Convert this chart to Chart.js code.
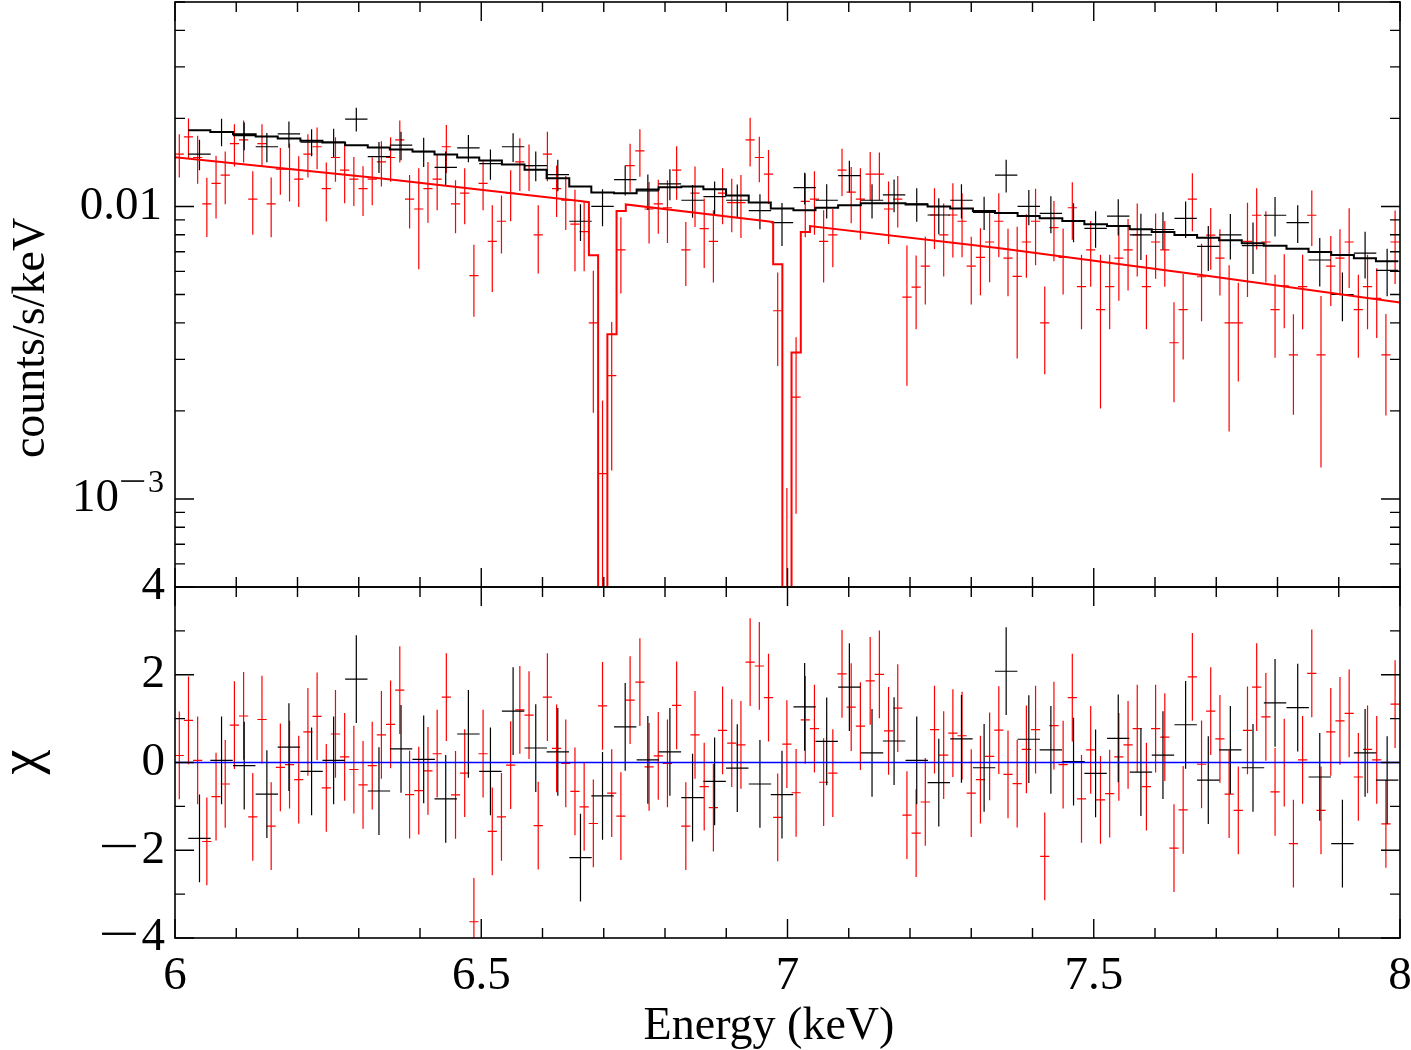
<!DOCTYPE html>
<html>
<head>
<meta charset="utf-8">
<script src="https://cdn.jsdelivr.net/npm/chart.js@4/dist/chart.umd.min.js"></script>
<style>
  html, body { margin: 0; padding: 0; background: #fff; }
  #wrap { position: relative; width: 1411px; height: 1050px; }
  #wrap canvas { position: absolute; left: 0; top: 0; }
</style>
</head>
<body>
<div id="wrap">
  <canvas id="resid" width="1411" height="1050"></canvas>
  <canvas id="spec" width="1411" height="1050"></canvas>
</div>
<script>
// black spectrum (wide bins)
const blackEnergy = [6.040, 6.076, 6.113, 6.150, 6.186, 6.223, 6.259, 6.296, 6.333, 6.369,
    6.406, 6.442, 6.479, 6.515, 6.552, 6.589, 6.625, 6.662, 6.698, 6.735,
    6.772, 6.808, 6.845, 6.881, 6.918, 6.955, 6.991, 7.028, 7.064, 7.101,
    7.138, 7.174, 7.211, 7.247, 7.284, 7.321, 7.357, 7.394, 7.430, 7.467,
    7.503, 7.540, 7.577, 7.613, 7.650, 7.687, 7.723, 7.760, 7.796, 7.833,
    7.869, 7.906, 7.943, 7.979];
const blackHalfWidth = 0.0183;
const blackRate = [0.0151, 0.0180, 0.01745, 0.0160, 0.0177, 0.0166, 0.0166, 0.0199, 0.0148, 0.0162,
    0.0154, 0.0136, 0.01585, 0.0140, 0.0160, 0.0138, 0.01285, 0.0089, 0.0100, 0.01235,
    0.0113, 0.01195, 0.0105, 0.0108, 0.0105, 0.00968, 0.0088, 0.0116, 0.0105, 0.01275,
    0.0105, 0.01096, 0.0102, 0.00935, 0.0105, 0.00955, 0.0128, 0.0100, 0.00947, 0.0089,
    0.00842, 0.00927, 0.0080, 0.00834, 0.0091, 0.0073, 0.0080, 0.00735, 0.00933, 0.0088,
    0.00656, 0.0050, 0.00693, 0.00605];
const blackErr = [0.0018, 0.00195, 0.0019, 0.00183, 0.00183, 0.00176, 0.00185, 0.00185, 0.0018, 0.0018,
    0.00177, 0.0018, 0.0017, 0.00165, 0.0018, 0.0016, 0.00158, 0.00128, 0.00144, 0.00145,
    0.00157, 0.00146, 0.00135, 0.00137, 0.00138, 0.00133, 0.00147, 0.00145, 0.0014, 0.00158,
    0.0014, 0.0014, 0.00133, 0.00132, 0.0014, 0.00125, 0.00163, 0.00138, 0.00137, 0.00135,
    0.0012, 0.00132, 0.00144, 0.00122, 0.0013, 0.00128, 0.00142, 0.00147, 0.00144, 0.0013,
    0.00124, 0.00095, 0.00126, 0.00112];
const blackModel = [0.01822, 0.01798, 0.01765, 0.01734, 0.01707, 0.01676, 0.01654, 0.01619, 0.01590, 0.01565,
    0.01541, 0.01504, 0.01470, 0.01436, 0.01391, 0.01335, 0.01249, 0.01170, 0.01116, 0.01110,
    0.01143, 0.01164, 0.01170, 0.01146, 0.01090, 0.01032, 0.00984, 0.00971, 0.00990, 0.01010,
    0.01026, 0.01026, 0.01016, 0.01000, 0.00984, 0.00964, 0.00949, 0.00927, 0.00912, 0.00891,
    0.00870, 0.00857, 0.00835, 0.00817, 0.00798, 0.00782, 0.00766, 0.00749, 0.00734, 0.00717,
    0.00698, 0.00682, 0.00665, 0.00649];
const blackChi = [-1.73, 0.05, -0.07, -0.72, 0.35, -0.20, 0.05, 1.90, -0.65, 0.31,
    0.07, -0.83, 0.65, -0.20, 1.17, 0.33, 0.24, -2.17, -0.76, 0.81,
    0.06, 0.24, -0.80, -0.43, -0.13, -0.49, -0.73, 1.27, 0.48, 1.72,
    0.22, 0.49, 0.05, -0.46, 0.54, -0.12, 2.08, 0.53, 0.29, 0.02,
    -0.25, 0.55, -0.22, 0.17, 0.86, -0.40, 0.29, -0.12, 1.36, 1.25,
    -0.33, -1.85, 0.22, -0.40];

// red spectrum (narrow bins)
const redEnergy = [6.007, 6.022, 6.037, 6.052, 6.067, 6.082, 6.097, 6.112, 6.127, 6.142,
    6.157, 6.172, 6.187, 6.202, 6.217, 6.232, 6.247, 6.262, 6.277, 6.292,
    6.307, 6.322, 6.337, 6.352, 6.367, 6.383, 6.398, 6.413, 6.428, 6.443,
    6.458, 6.473, 6.488, 6.503, 6.518, 6.533, 6.548, 6.563, 6.578, 6.593,
    6.608, 6.623, 6.638, 6.653, 6.668, 6.683, 6.698, 6.713, 6.728, 6.743,
    6.759, 6.774, 6.789, 6.804, 6.819, 6.834, 6.849, 6.864, 6.879, 6.894,
    6.909, 6.924, 6.939, 6.954, 6.969, 6.984, 6.999, 7.014, 7.029, 7.044,
    7.059, 7.074, 7.089, 7.104, 7.119, 7.135, 7.150, 7.165, 7.180, 7.195,
    7.210, 7.225, 7.240, 7.255, 7.270, 7.285, 7.300, 7.315, 7.330, 7.345,
    7.360, 7.375, 7.390, 7.405, 7.420, 7.435, 7.450, 7.465, 7.480, 7.495,
    7.511, 7.526, 7.541, 7.556, 7.571, 7.586, 7.601, 7.616, 7.631, 7.646,
    7.661, 7.676, 7.691, 7.706, 7.721, 7.736, 7.751, 7.766, 7.781, 7.796,
    7.811, 7.826, 7.841, 7.856, 7.871, 7.887, 7.902, 7.917, 7.932, 7.947,
    7.962, 7.977, 7.992];
const redHalfWidth = 0.0075;
const redRate = [0.0151, 0.0173, 0.0147, 0.0102, 0.0120, 0.0128, 0.0164, 0.0169, 0.0106, 0.0164,
    0.0102, 0.0134, 0.0134, 0.0124, 0.0151, 0.0160, 0.0115, 0.0147, 0.0133, 0.0124,
    0.0115, 0.0124, 0.0142, 0.0147, 0.0169, 0.0106, 0.0098, 0.0115, 0.0124, 0.0160,
    0.0102, 0.0111, 0.0058, 0.0120, 0.0076, 0.0089, 0.0111, 0.0142, 0.0138, 0.0080,
    0.0151, 0.0115, 0.0105, 0.0087, 0.0082, 0.0040, 0.00122, 0.00264, 0.00711, 0.0138,
    0.0155, 0.0098, 0.0102, 0.0099, 0.0133, 0.0071, 0.0111, 0.0084, 0.0076, 0.0111,
    0.0103, 0.0103, 0.0169, 0.0147, 0.0129, 0.0044, 0.00032, 0.00223, 0.0104, 0.0106,
    0.0076, 0.0080, 0.0133, 0.0112, 0.0106, 0.0129, 0.0129, 0.0098, 0.0106, 0.0049,
    0.0053, 0.00625, 0.00935, 0.0080, 0.00935, 0.0089, 0.00625, 0.0067, 0.00756, 0.0089,
    0.00666, 0.00577, 0.00756, 0.0089, 0.0040, 0.00846, 0.0067, 0.0099, 0.00532, 0.00711,
    0.00444, 0.00532, 0.00666, 0.00711, 0.0080, 0.00532, 0.00756, 0.00711, 0.00342, 0.00444,
    0.0106, 0.00575, 0.00798, 0.00666, 0.0040, 0.0040, 0.0076, 0.00933, 0.00756, 0.00444,
    0.00535, 0.00311, 0.00532, 0.00933, 0.00311, 0.00625, 0.00666, 0.00756, 0.00444, 0.00532,
    0.00485, 0.00311, 0.00756];
const redErr = [0.00255, 0.0027, 0.00275, 0.00233, 0.0029, 0.00262, 0.00271, 0.00278, 0.00259, 0.00271,
    0.00235, 0.00244, 0.0030, 0.00245, 0.00254, 0.0026, 0.00262, 0.00255, 0.00305, 0.00236,
    0.00223, 0.0023, 0.0025, 0.00255, 0.00278, 0.0022, 0.0037, 0.0027, 0.0027, 0.0030,
    0.0021, 0.0024, 0.0016, 0.0023, 0.0025, 0.0020, 0.0022, 0.0029, 0.0025, 0.0021,
    0.0029, 0.0023, 0.0022, 0.0027, 0.0022, 0.00203, 0.00095, 0.00139, 0.00207, 0.00257,
    0.00287, 0.00233, 0.00214, 0.0024, 0.00275, 0.00175, 0.0026, 0.00224, 0.0021, 0.0024,
    0.00214, 0.0025, 0.0032, 0.0026, 0.0027, 0.00155, 0.00077, 0.00134, 0.00255, 0.0026,
    0.0021, 0.0018, 0.00244, 0.00244, 0.0029, 0.00245, 0.0024, 0.00236, 0.00212, 0.00246,
    0.0015, 0.00163, 0.0022, 0.00224, 0.00266, 0.0022, 0.00163, 0.00173, 0.00205, 0.0022,
    0.00173, 0.00275, 0.00185, 0.0026, 0.00133, 0.00197, 0.0017, 0.0022, 0.00152, 0.0018,
    0.0024, 0.00152, 0.0019, 0.00195, 0.00224, 0.00152, 0.0019, 0.0018, 0.00128, 0.00144,
    0.00238, 0.0017, 0.0019, 0.0017, 0.0023, 0.00148, 0.0027, 0.0022, 0.00207, 0.0014,
    0.00152, 0.00117, 0.00152, 0.0020, 0.00183, 0.00168, 0.0017, 0.0023, 0.0014, 0.00152,
    0.0013, 0.00118, 0.00213];
const redChi = [0.16, 0.96, 0.05, -1.80, -0.78, -0.49, 0.85, 1.06, -1.24, 0.98,
    -1.45, -0.11, -0.05, -0.39, 0.70, 1.05, -0.58, 0.65, 0.13, -0.16,
    -0.51, -0.07, 0.63, 0.87, 1.65, -0.73, -0.64, -0.19, 0.20, 1.49,
    -0.74, -0.24, -3.63, 0.20, -1.57, -1.24, -0.06, 1.20, 1.08, -1.44,
    1.49, 0.32, -0.02, -0.66, -1.01, -1.39, 1.29, -0.70, -1.22, 1.42,
    1.83, -0.10, 0.15, -0.02, 1.30, -1.45, 0.63, -0.55, -1.03, 0.73,
    0.44, 0.40, 2.29, 2.20, 1.48, -1.25, 0.42, -0.69, 0.97, 0.77,
    -0.45, -0.24, 2.02, 1.26, 0.83, 1.86, 2.01, 0.72, 1.24, -1.20,
    -1.61, -0.90, 0.75, 0.17, 0.67, 0.61, -0.70, -0.39, 0.14, 0.74,
    -0.27, -0.48, 0.30, 0.75, -2.14, 0.84, -0.05, 1.48, -0.83, 0.29,
    -0.85, -0.71, 0.13, 0.40, 0.77, -0.55, 0.77, 0.58, -1.95, -1.08,
    1.95, -0.04, 1.17, 0.54, -0.72, -1.09, 0.73, 1.72, 1.04, -0.67,
    0.00, -1.85, 0.06, 2.03, -1.09, 0.70, 0.95, 1.12, -0.33, 0.30,
    0.06, -1.40, 1.33];

// red model curve, vertices (steps at the two absorption lines)
const redModelEnergy = [6.000, 6.3375, 6.6612, 6.6758, 6.6758, 6.6908, 6.6908, 6.7059, 6.7059,
    6.7209, 6.7209, 6.7360, 6.7360, 6.9633, 6.9766, 6.9766, 6.9916, 6.9916, 7.0066,
    7.0066, 7.0217, 7.0217, 7.0367, 7.0367, 7.3469, 7.6816, 8.000];
const redModelRate = [0.01473, 0.01246, 0.01043, 0.01034, 0.00681, 0.00681, 0.00001, 0.00001, 0.00366,
    0.00366, 0.00964, 0.00964, 0.01016, 0.00891, 0.00884, 0.00634, 0.00634, 0.00001, 0.00001,
    0.00317, 0.00317, 0.00817, 0.00817, 0.00857, 0.00719, 0.00581, 0.00469];

const energyTicks = [6, 6.5, 7, 7.5, 8];
const energyTickLabels = ["6", "6.5", "7", "7.5", "8"];
const chiTicks = [-4, -2, 0, 2, 4];
const chiTickLabels = ["\u22124", "\u22122", "0", "2", "4"];

const FONT = "\"Liberation Serif\", \"Times New Roman\", serif";
const LABEL_PX = 46;
const TICK_PX = 47;

const points = (xs, ys) => xs.map((x, i) => ({ x, y: ys[i] }));

const stepEdges = (centers, halfWidth, values) => {
    const pts = centers.map((c, i) => ({ x: c - halfWidth, y: values[i] }));
    pts.push({ x: centers[centers.length - 1] + halfWidth, y: values[values.length - 1] });
    return pts;
};

// right-aligned number with the long plotting-package minus sign
const drawNumber = (ctx, text, xRight, yMid, px) => {
    ctx.font = `${px}px ${FONT}`;
    ctx.textAlign = "right";
    ctx.textBaseline = "middle";
    const negative = text.startsWith("\u2212");
    const body = negative ? text.slice(1) : text;
    ctx.fillText(body, xRight, yMid);
    const w = ctx.measureText(body).width;
    if (!negative) {
        return w;
    }
    const end = xRight - w - px * 0.12;
    const len = px * 0.72;
    const thick = Math.max(1.5, px * 0.05);
    ctx.fillRect(end - len, yMid - px * 0.09 - thick / 2, len, thick);
    return w + px * 0.12 + len;
};

// data crosses: horizontal bar = bin width, vertical bar = error
const crossPlugin = {
    id: "crosses",
    beforeDatasetsDraw(chart) {
        const { ctx, chartArea: a } = chart;
        const xs = chart.scales.x;
        const ys = chart.scales.y;
        ctx.save();
        ctx.beginPath();
        ctx.rect(a.left, a.top, a.right - a.left, a.bottom - a.top);
        ctx.clip();
        chart.data.datasets.forEach((ds) => {
            if (ds.errY === undefined) {
                return;
            }
            ctx.strokeStyle = ds.borderColor;
            ctx.lineWidth = 1.2;
            ctx.beginPath();
            ds.data.forEach((p, i) => {
                const err = Array.isArray(ds.errY) ? ds.errY[i] : ds.errY;
                const py = ys.getPixelForValue(p.y);
                const px = xs.getPixelForValue(p.x);
                ctx.moveTo(xs.getPixelForValue(p.x - ds.halfWidth), py);
                ctx.lineTo(xs.getPixelForValue(p.x + ds.halfWidth), py);
                const low = ys.type === "logarithmic" ? Math.max(p.y - err, 1e-7) : p.y - err;
                ctx.moveTo(px, ys.getPixelForValue(p.y + err));
                ctx.lineTo(px, ys.getPixelForValue(low));
            });
            ctx.stroke();
        });
        ctx.restore();
    }
};

const drawFrame = (chart, yTicks) => {
    const { ctx, chartArea: a } = chart;
    const xs = chart.scales.x;
    const ys = chart.scales.y;
    ctx.strokeStyle = "#000";
    ctx.lineWidth = 1.6;
    ctx.strokeRect(a.left, a.top, a.right - a.left, a.bottom - a.top);
    ctx.lineWidth = 1.4;
    ctx.beginPath();
    for (let i = 0; i <= 20; i++) {
        const v = 6 + i * 0.1;
        const len = i % 5 === 0 ? 19 : 10;
        const px = xs.getPixelForValue(v);
        ctx.moveTo(px, a.top);
        ctx.lineTo(px, a.top + len);
        ctx.moveTo(px, a.bottom);
        ctx.lineTo(px, a.bottom - len);
    }
    yTicks.forEach((t) => {
        const py = ys.getPixelForValue(t.v);
        const len = t.major ? 19 : 10;
        ctx.moveTo(a.left, py);
        ctx.lineTo(a.left + len, py);
        ctx.moveTo(a.right, py);
        ctx.lineTo(a.right - len, py);
    });
    ctx.stroke();
};

const specTicks = [];
[1e-4, 1e-3, 1e-2].forEach((d) => {
    for (let m = 1; m <= 9; m++) {
        const v = m * d;
        if (v >= 5e-4 && v <= 0.05) {
            specTicks.push({ v, major: m === 1 });
        }
    }
});

const residTicks = [];
for (let v = -4; v <= 4; v++) {
    residTicks.push({ v, major: v % 2 === 0 });
}

const specDecor = {
    id: "specDecor",
    afterDraw(chart) {
        const { ctx } = chart;
        const ys = chart.scales.y;
        ctx.save();
        drawFrame(chart, specTicks);
        ctx.fillStyle = "#000";
        drawNumber(ctx, "0.01", 162, ys.getPixelForValue(0.01), TICK_PX);

        const y3 = ys.getPixelForValue(0.001);
        const expW = drawNumber(ctx, "\u22123", 164, y3 - 15, 32);
        drawNumber(ctx, "10", 164 - expW - 2, y3, TICK_PX);

        ctx.font = `${LABEL_PX}px ${FONT}`;
        ctx.translate(44, 338);
        ctx.rotate(-Math.PI / 2);
        ctx.textAlign = "center";
        ctx.textBaseline = "alphabetic";
        ctx.fillText("counts/s/keV", 0, 0);
        ctx.restore();
    }
};

const residDecor = {
    id: "residDecor",
    afterDraw(chart) {
        const { ctx } = chart;
        const xs = chart.scales.x;
        const ys = chart.scales.y;
        ctx.save();
        drawFrame(chart, residTicks);
        ctx.fillStyle = "#000";
        chiTicks.forEach((v, i) => {
            drawNumber(ctx, chiTickLabels[i], 165, ys.getPixelForValue(v), TICK_PX);
        });
        ctx.font = `${TICK_PX}px ${FONT}`;
        ctx.textAlign = "center";
        ctx.textBaseline = "alphabetic";
        energyTicks.forEach((v, i) => {
            ctx.fillText(energyTickLabels[i], xs.getPixelForValue(v), 989);
        });
        ctx.font = `${LABEL_PX}px ${FONT}`;
        ctx.fillText("Energy (keV)", 769, 1039);

        ctx.font = `56px ${FONT}`;
        ctx.translate(38, 762);
        ctx.rotate(-Math.PI / 2);
        ctx.fillText("\u03c7", 0, 0);
        ctx.restore();
    }
};

const commonOptions = (padding, yScale) => ({
    responsive: false,
    animation: false,
    events: [],
    layout: { padding },
    plugins: {
        legend: { display: false },
        tooltip: { enabled: false }
    },
    scales: {
        x: { type: "linear", min: 6, max: 8, display: false },
        y: yScale
    }
});

new Chart(document.getElementById("spec"), {
    type: "scatter",
    data: {
        datasets: [
            {
                data: points(redModelEnergy, redModelRate),
                showLine: true,
                borderColor: "#ff0000",
                borderWidth: 2,
                pointRadius: 0
            },
            {
                data: stepEdges(blackEnergy, blackHalfWidth, blackModel),
                showLine: true,
                stepped: true,
                borderColor: "#000000",
                borderWidth: 2,
                pointRadius: 0
            },
            {
                data: points(redEnergy, redRate),
                errY: redErr,
                halfWidth: redHalfWidth,
                borderColor: "#ff0000",
                pointRadius: 0
            },
            {
                data: points(blackEnergy, blackRate),
                errY: blackErr,
                halfWidth: blackHalfWidth,
                borderColor: "#000000",
                pointRadius: 0
            }
        ]
    },
    options: commonOptions(
        { left: 175, right: 11, top: 2, bottom: 463 },
        { type: "logarithmic", min: 5e-4, max: 0.05, display: false }
    ),
    plugins: [crossPlugin, specDecor]
});

new Chart(document.getElementById("resid"), {
    type: "scatter",
    data: {
        datasets: [
            {
                data: [{ x: 6, y: 0 }, { x: 8, y: 0 }],
                showLine: true,
                borderColor: "#0000ff",
                borderWidth: 1.6,
                pointRadius: 0
            },
            {
                data: points(redEnergy, redChi),
                errY: 1,
                halfWidth: redHalfWidth,
                borderColor: "#ff0000",
                pointRadius: 0
            },
            {
                data: points(blackEnergy, blackChi),
                errY: 1,
                halfWidth: blackHalfWidth,
                borderColor: "#000000",
                pointRadius: 0
            }
        ]
    },
    options: commonOptions(
        { left: 175, right: 11, top: 587, bottom: 112 },
        { type: "linear", min: -4, max: 4, display: false }
    ),
    plugins: [crossPlugin, residDecor]
});
</script>
</body>
</html>
